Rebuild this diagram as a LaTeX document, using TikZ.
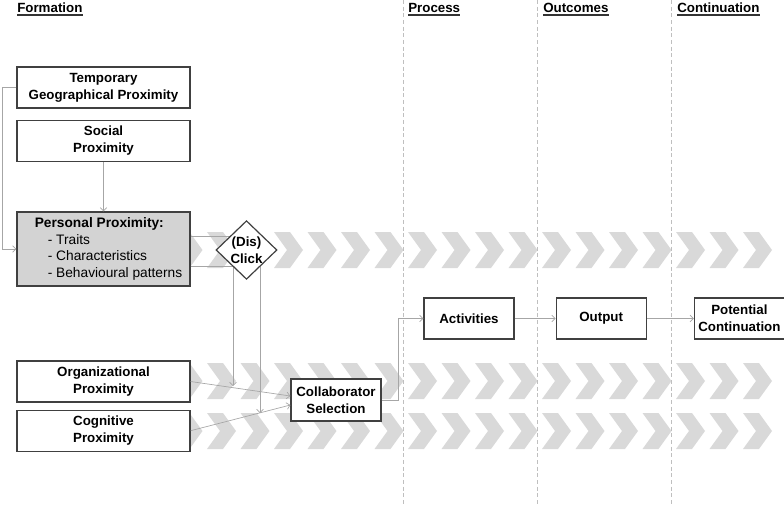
\documentclass[tikz,border=0pt]{standalone}
\usepackage{fontspec}
\setmainfont{Liberation Sans}
\usepackage{tikz}
\usetikzlibrary{positioning}
\usetikzlibrary{shapes.geometric}
\usetikzlibrary{arrows.meta}
\definecolor{chevgray}{HTML}{D9D9D9}
\definecolor{linkgray}{HTML}{A6A6A6}
\definecolor{sepgray}{HTML}{BFBFBF}
\definecolor{boxgray}{HTML}{D3D3D3}

\begin{document}
\begin{tikzpicture}[x=0.75pt,y=-0.75pt,
	font=\fontsize{10}{12.75}\selectfont\bfseries,
	box/.style={draw=black!75,line width=0.9pt,fill=white,align=center,inner sep=0pt},
	wide/.style={box,minimum width=129.75pt,minimum height=30.75pt},
	small/.style={box,minimum width=67.5pt,minimum height=30.75pt},
	link/.style={draw=linkgray,line width=0.5pt,-{Straight Barb[length=2.5pt,width=5pt]}},
	head/.style={anchor=base west,inner sep=0pt}]
		\useasboundingbox (0,0) rectangle (784,504);
		\foreach \y in {250,381,431}
			\foreach \n in {0,...,17}
				\fill [chevgray] ({173.5+33.5*\n},{\y-18}) -- ++(16,0) -- ++(13,18) -- ++(-13,18) -- ++(-16,0) -- ++(13,-18) -- cycle;
		\foreach \x in {403,537,671}
			\draw [sepgray,line width=0.75pt,dash pattern=on 3pt off 2pt] (\x,0) -- (\x,504);
		\node [head] (hform) at (17,12) {Formation};
		\node [head] (hproc) at (408,12) {Process};
		\node [head] (hout) at (543,12) {Outcomes};
		\node [head] (hcont) at (677,12) {Continuation};
		\foreach \h in {hform,hproc,hout,hcont}
			\draw [black!80,line width=1.4pt] ([yshift=-2pt]\h.base west) -- ([yshift=-2pt]\h.base east);
		\node [wide] (temp) at (103.5,87.5) {Temporary\\Geographical Proximity};
		\node [wide,below=8.25pt of temp] (social) {Social\\Proximity};
		\node [box,fill=boxgray,minimum width=129.75pt,minimum height=55.5pt,align=left,font=\fontsize{10.3}{12.4}\selectfont] (personal) at (103.5,249)
			{\hspace*{7.5pt}\textbf{Personal Proximity:}\\\hspace*{17.25pt}- Traits\\\hspace*{17.25pt}- Characteristics\\\hspace*{17.25pt}- Behavioural patterns};
		\node [wide] (org) at (103.5,381.5) {Organizational\\Proximity};
		\node [wide,below=5.25pt of org] (cog) {Cognitive\\Proximity};
		\node [small,minimum height=31.5pt] (coll) at (336,400) {Collaborator\\Selection};
		\node [small] (act) at (469,318.5) {Activities};
		\node [small,right=30.75pt of act] (out) {Output};
		\node [small,right=35.25pt of out] (cont) {Potential\\Continuation};
		\coordinate (click1) at (233,386);
		\coordinate (click2) at (260,413);
		\draw [link] (temp.west) -- ++(-14,0) |- (personal.west);
		\draw [link] (social) -- (personal);
		\draw [link] ([yshift=9.75pt]personal.east) -| (click2);
		\draw [link] ([yshift=-12.75pt]personal.east) -| (click1);
		\draw [link] (org.east) -- ([yshift=3pt]coll.west);
		\draw [link] (cog.east) -- ([yshift=-3.75pt]coll.west);
		\draw [link] (coll.east) -- ++(17,0) |- (act.west);
		\draw [link] (act) -- (out);
		\draw [link] (out) -- (cont);
		\node [box,diamond,minimum width=45.75pt,minimum height=41.25pt] (click) at (246.5,250) {(Dis)\\Click};
	\end{tikzpicture}
\end{document}
